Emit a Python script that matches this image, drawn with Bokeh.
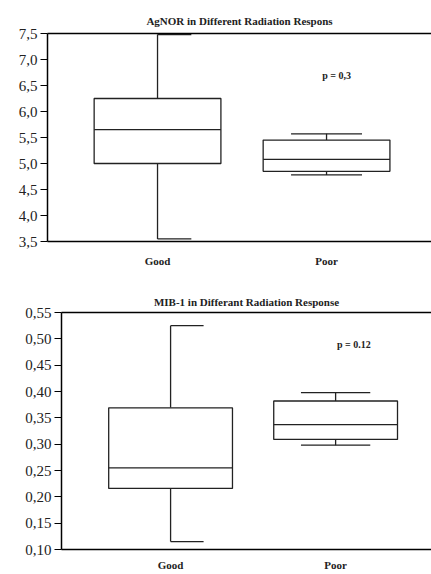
from bokeh.plotting import figure
from bokeh.models import Range1d, FixedTicker, LinearAxis, Label
from bokeh.embed import file_html
from bokeh.resources import INLINE

groups = ["Good", "Poor"]
group_pos = [1, 2]

agnor_low = [3.55, 4.78]
agnor_q1 = [5.0, 4.85]
agnor_med = [5.65, 5.08]
agnor_q3 = [6.25, 5.45]
agnor_high = [7.48, 5.57]
agnor_ticks = [3.5, 4.0, 4.5, 5.0, 5.5, 6.0, 6.5, 7.0, 7.5]
agnor_p = "p = 0,3"

mib_low = [0.115, 0.298]
mib_q1 = [0.216, 0.309]
mib_med = [0.255, 0.337]
mib_q3 = [0.369, 0.382]
mib_high = [0.525, 0.398]
mib_ticks = [0.10, 0.15, 0.20, 0.25, 0.30, 0.35, 0.40, 0.45, 0.50, 0.55]
mib_p = "p = 0.12"

SERIF = "Liberation Serif"
W = 431
BOX_W = 0.75
# cap extents relative to centre (left, right) per group
CAP_L = [0.0, -0.21]
CAP_R = [0.2, 0.21]


def make(title, low, q1, med, q3, high, ticks, ylo, yhi, xlo, xhi, fmt,
         ptext, px, py, h, bt, bb, bl, fh, standoff, tstand):
    p = figure(width=W, height=h, output_backend="svg", toolbar_location=None,
               x_range=Range1d(xlo, xhi), y_range=Range1d(ylo, yhi),
               min_border_top=bt, min_border_bottom=bb, min_border_left=bl,
               min_border_right=0, x_axis_location=None, y_axis_location=None,
               background_fill_color="white", border_fill_color="white")
    p.frame_height = fh
    p.frame_width = W - bl
    p.outline_line_color = None
    p.grid.visible = False
    p.title.text = title
    p.title.align = "center"
    p.title.text_font = SERIF
    p.title.text_font_size = "11px"
    p.title.text_font_style = "bold"
    p.title.text_color = "#222222"
    p.title.standoff = tstand

    yax = LinearAxis(ticker=FixedTicker(ticks=ticks))
    yax.major_label_overrides = {t: fmt(t) for t in ticks}
    yax.major_label_text_font = SERIF
    yax.major_label_text_font_size = "15px"
    yax.major_label_text_color = "#222222"
    yax.major_tick_in = 0
    yax.major_tick_out = 7
    yax.minor_tick_line_color = None
    yax.axis_line_width = 1.5
    yax.major_tick_line_width = 1.2
    yax.major_label_standoff = 3
    p.add_layout(yax, "left")

    xax = LinearAxis(ticker=FixedTicker(ticks=group_pos))
    xax.major_label_overrides = {g: n for g, n in zip(group_pos, groups)}
    xax.major_label_text_font = SERIF
    xax.major_label_text_font_size = "11px"
    xax.major_label_text_font_style = "bold"
    xax.major_label_text_color = "#222222"
    xax.major_tick_line_color = None
    xax.minor_tick_line_color = None
    xax.axis_line_width = 1.5
    xax.major_label_standoff = standoff
    p.add_layout(xax, "below")

    top = LinearAxis(ticker=FixedTicker(ticks=[]))
    top.major_label_text_font_size = "0px"
    top.major_tick_line_color = None
    top.minor_tick_line_color = None
    top.axis_line_width = 1.5
    p.add_layout(top, "above")

    # whiskers
    p.segment(x0=group_pos, y0=q3, x1=group_pos, y1=high, line_color="#222222", line_width=1.3)
    p.segment(x0=group_pos, y0=low, x1=group_pos, y1=q1, line_color="#222222", line_width=1.3)
    # caps
    cl = [g + d for g, d in zip(group_pos, CAP_L)]
    cr = [g + d for g, d in zip(group_pos, CAP_R)]
    p.segment(x0=cl, y0=high, x1=cr, y1=high, line_color="#222222", line_width=1.3)
    p.segment(x0=cl, y0=low, x1=cr, y1=low, line_color="#222222", line_width=1.3)
    # boxes
    p.vbar(x=group_pos, width=BOX_W, bottom=q1, top=q3, fill_color="white",
           line_color="#222222", line_width=1.3)
    p.segment(x0=[g - BOX_W / 2 for g in group_pos], y0=med,
              x1=[g + BOX_W / 2 for g in group_pos], y1=med,
              line_color="#222222", line_width=1.3)

    p.add_layout(Label(x=px, y=py, text=ptext, text_font=SERIF, text_font_size="10px",
                       text_font_style="bold", text_align="center",
                       text_baseline="middle", text_color="#222222"))
    return p


p1 = make("AgNOR in Different Radiation Respons", agnor_low, agnor_q1, agnor_med,
          agnor_q3, agnor_high, agnor_ticks, 3.5, 7.5, 0.349, 2.621,
          lambda t: ("%.1f" % t).replace(".", ","), agnor_p, 2.06, 6.69,
          264, 33, 23, 47, 208, 7, 14)
p2 = make("MIB-1 in Differant Radiation Response", mib_low, mib_q1, mib_med,
          mib_q3, mib_high, mib_ticks, 0.10, 0.55, 0.339, 2.581,
          lambda t: ("%.2f" % t).replace(".", ","), mib_p, 2.11, 0.489,
          294, 43, 14, 61, 237, 3, 10)

open("out.html", "w").write(file_html([p1, p2], INLINE))
